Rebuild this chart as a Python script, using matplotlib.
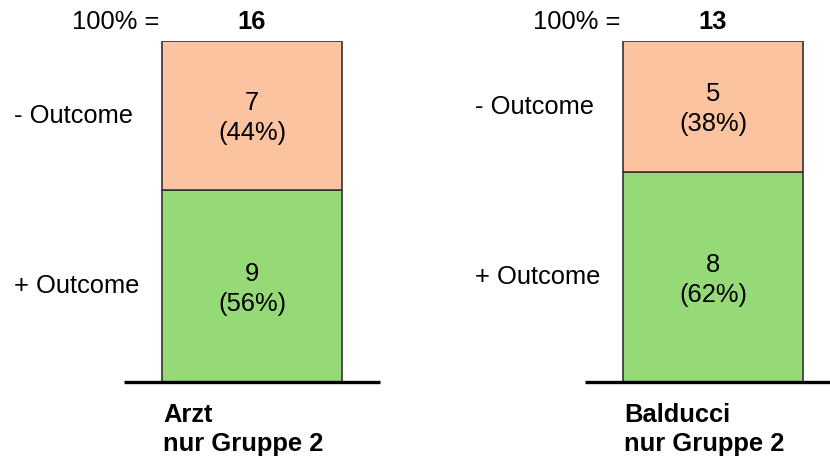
import matplotlib
matplotlib.use("Agg")
import matplotlib.pyplot as plt

plt.rcParams['font.family'] = ['Liberation Sans', 'DejaVu Sans']

groups = ["Arzt\nnur Gruppe 2", "Balducci\nnur Gruppe 2"]
positive = [9, 8]
negative = [7, 5]
row_labels = ["+ Outcome", "- Outcome"]

pos_color = "#95DA77"
neg_color = "#FBC3A0"
edge_color = "#333333"
fs = 18.4

fig = plt.figure(figsize=(8.30, 4.59), dpi=100)
ax = fig.add_axes([0, (459 - 382) / 459, 1, (382 - 41) / 459])
ax.set_xlim(-252 / 461, (830 - 252) / 461)
ax.set_ylim(0, 100)
ax.axis("off")

width = 180 / 461
for i, (g, p, n) in enumerate(zip(groups, positive, negative)):
    total = p + n
    p_pct = 100 * p / total
    n_pct = 100 * n / total
    ax.bar(i, p_pct, width=width, color=pos_color, edgecolor=edge_color, linewidth=1.2)
    ax.bar(i, n_pct, bottom=p_pct, width=width, color=neg_color, edgecolor=edge_color, linewidth=1.2)
    # baseline under each bar
    ax.plot([i - 0.278, i + 0.278], [0, 0], color="black", lw=2.4,
            solid_capstyle="butt", clip_on=False, zorder=5)
    # segment values
    ax.text(i, p_pct / 2 - 0.8, f"{p}\n({round(p_pct)}%)", ha="center", va="center",
            fontsize=fs, linespacing=1.3)
    ax.text(i, p_pct + n_pct / 2 - 0.8, f"{n}\n({round(n_pct)}%)", ha="center", va="center",
            fontsize=fs, linespacing=1.3)
    # row labels
    ax.text(i - 0.516, p_pct / 2, row_labels[0], ha="left", va="center", fontsize=fs)
    ax.text(i - 0.516, p_pct + n_pct / 2, row_labels[1], ha="left", va="center", fontsize=fs)
    # totals
    ax.text(i - width / 2 - 0.005, 105.5, "100% =", ha="right", va="center", fontsize=fs,
            clip_on=False)
    ax.text(i, 105.5, f"{total}", ha="center", va="center", fontsize=fs,
            fontweight="bold", clip_on=False)
    # group label
    ax.text(i - width / 2 + 0.002, -6.3, g, ha="left", va="top", fontsize=fs,
            fontweight="bold", linespacing=1.25, clip_on=False)

fig.savefig("out.png", dpi=100)
